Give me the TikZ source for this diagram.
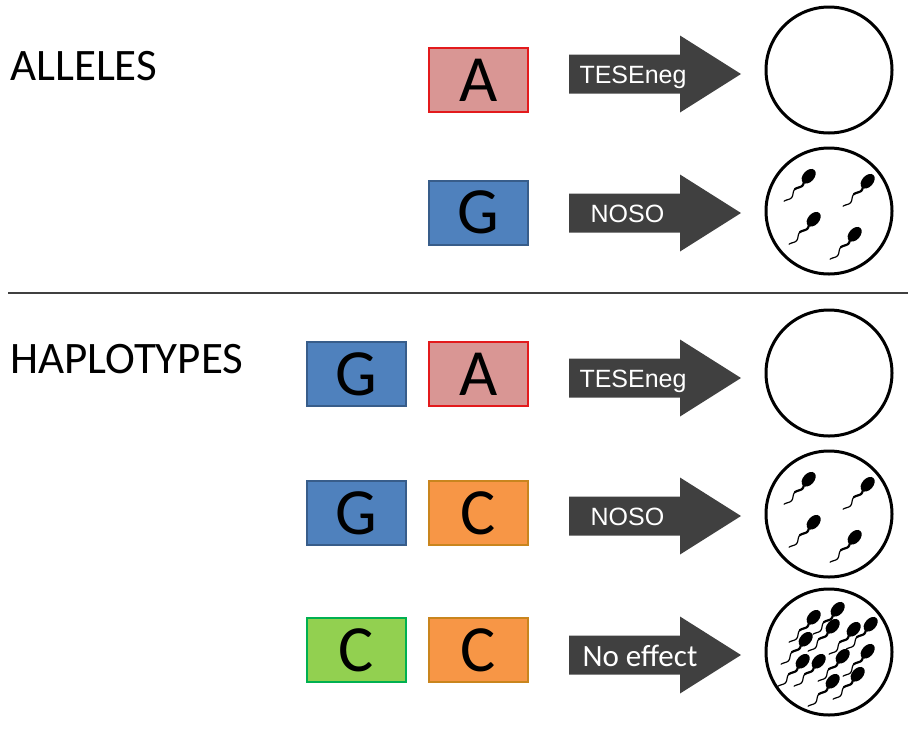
\documentclass[tikz,border=0pt]{standalone}
\usepackage{fontspec}
\setmainfont{Carlito}
\newfontfamily\arialfont{Liberation Sans}
\definecolor{pinkfill}{HTML}{D99694}
\definecolor{pinkline}{HTML}{E31A1C}
\definecolor{bluefill}{HTML}{4F81BD}
\definecolor{blueline}{HTML}{385D8A}
\definecolor{orangefill}{HTML}{F79646}
\definecolor{orangeline}{HTML}{C9851E}
\definecolor{greenfill}{HTML}{92D050}
\definecolor{greenline}{HTML}{00B050}
\definecolor{arrowgray}{HTML}{404040}
\begin{document}
\begin{tikzpicture}[x=1pt,y=-1pt,
  heading/.style={anchor=base west, inner sep=0pt, font=\fontsize{45}{45}\selectfont},
  gene/.style={draw, line width=2pt, minimum width=99pt, minimum height=64pt,
    inner sep=0pt, font=\fontsize{66}{66}\selectfont},
  geneA/.style={gene, fill=pinkfill, draw=pinkline},
  geneG/.style={gene, fill=bluefill, draw=blueline},
  geneCo/.style={gene, fill=orangefill, draw=orangeline},
  geneCg/.style={gene, fill=greenfill, draw=greenline},
  dish/.style={draw, circle, line width=3pt, minimum size=126pt, inner sep=0pt},
  arrowtext/.style={anchor=base, inner sep=0pt, text=white, font=\arialfont\fontsize{25}{25}\selectfont},
  arrowtextc/.style={anchor=base, inner sep=0pt, text=white, font=\fontsize{31}{31}\selectfont},
  fatarrow/.pic={\fill[arrowgray] (-172,-19.5) -- (-61,-19.5) -- (-61,-38.5) -- (0,0)
      -- (-61,38.5) -- (-61,19.5) -- (-172,19.5) -- cycle;},
  sperm/.pic={
    \begin{scope}[rotate=48]
      \fill (1,0) ellipse [x radius=8.5, y radius=5.6];
      \draw[line width=2.2pt, line cap=round] plot[smooth, domain=0:12, samples=13]
        ({-6-\x}, {1.6*sin(\x*22)});
      \draw[line width=1.2pt, line cap=round] plot[smooth, domain=11:28, samples=18]
        ({-6-\x}, {1.6*sin(\x*22)});
    \end{scope}}
]
\useasboundingbox (0,0) rectangle (908,729);

% section headings and divider
\node[heading] (hAll) at (10,80) {ALLELES};
\node[heading] (hHap) at (10,373) {HAPLOTYPES};
\coordinate (divL) at (8,293);
\coordinate (divR) at (908,293);
\draw[arrowgray, line width=2pt] (divL) -- (divR);

% allele / haplotype boxes
\node[geneA] (a1) at (478.5,80) {A};
\node[geneG] (g2) at (478.5,212.5) {G};
\node[geneG] (g3) at (356.5,374) {G};
\node[geneA] (a3) at (478.5,374) {A};
\node[geneG] (g4) at (356.5,513) {G};
\node[geneCo] (c4) at (478.5,513) {C};
\node[geneCg] (c5a) at (356.5,650) {C};
\node[geneCo] (c5b) at (478.5,650) {C};

% block arrows with their phenotype labels
\pic at (741,74) {fatarrow};
\node[arrowtext] (t1) at (633,83) {TESEneg};
\pic at (741,213) {fatarrow};
\node[arrowtext] (t2) at (627.5,222) {NOSO};
\pic at (741,378) {fatarrow};
\node[arrowtext] (t3) at (633,387) {TESEneg};
\pic at (741,516) {fatarrow};
\node[arrowtext] (t4) at (627.5,525) {NOSO};
\pic at (741,655) {fatarrow};
\node[arrowtextc] (t5) at (640,666) {No effect};

% outcome dishes
\node[dish] (d1) at (829,70) {};
\node[dish] (d2) at (829,211) {};
\node[dish] (d3) at (829,373) {};
\node[dish] (d4) at (829,514) {};
\node[dish] (d5) at (829,652) {};

% few sperm
\foreach \d in {d2,d4}{
  \foreach \dx/\dy in {-21/-34, 38/-29, -16/9, 25/24}{
    \pic at ([shift={(\dx,\dy)}]\d.center) {sperm};
  }
}
% many sperm
\foreach \dx/\dy in {-16/-34, 8/-42, -24/-12, 3/-25, 24/-22, 41/-27,
                     -27/10, -11/10, 13/5, 38/0, 3/30, 28/23}{
  \pic at ([shift={(\dx,\dy)}]d5.center) {sperm};
}
\end{tikzpicture}
\end{document}
